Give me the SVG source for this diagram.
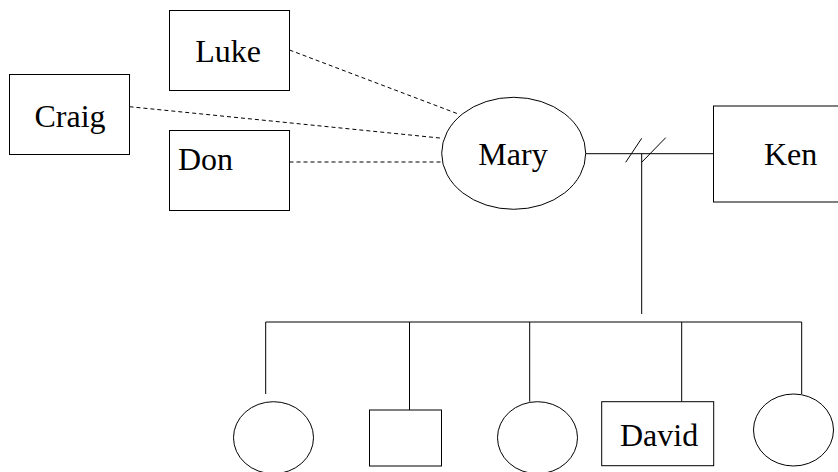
<svg xmlns="http://www.w3.org/2000/svg" width="838" height="472" viewBox="0 0 838 472">
<style>
.shape{fill:#fff;stroke:#000;stroke-width:1}
.line{fill:none;stroke:#000;stroke-width:1}
.dash{fill:none;stroke:#000;stroke-width:1;stroke-dasharray:4,3}
.lbl{font-family:"Times New Roman",Times,"Liberation Serif",Tinos,"Noto Serif","DejaVu Serif",FreeSerif,serif;font-size:32px;fill:#000}
</style>
<rect width="838" height="472" fill="#fff"/>
<g id="connectors">
<line class="dash" x1="289.5" y1="50" x2="458.3" y2="114"/>
<line class="dash" x1="129.5" y1="106.7" x2="442.7" y2="138.3"/>
<line class="dash" x1="289.5" y1="162" x2="442" y2="162"/>
<line class="line" x1="585.7" y1="153.7" x2="713.5" y2="153.7"/>
<line class="line" x1="625.7" y1="162.3" x2="641.7" y2="138.3"/>
<line class="line" x1="641.7" y1="162.3" x2="665.7" y2="137.7"/>
<line class="line" x1="641.7" y1="153.7" x2="641.7" y2="314"/>
<line class="line" x1="265.7" y1="322" x2="801.7" y2="322"/>
<line class="line" x1="265.7" y1="322" x2="265.7" y2="394"/>
<line class="line" x1="409.5" y1="322" x2="409.5" y2="410"/>
<line class="line" x1="529.7" y1="322" x2="529.7" y2="401.7"/>
<line class="line" x1="681.7" y1="322" x2="681.7" y2="401.7"/>
<line class="line" x1="801.7" y1="322" x2="801.7" y2="394"/>
</g>
<g id="luke"><rect class="shape" x="169.5" y="10.5" width="120" height="80"/><text class="lbl" x="228" y="62" text-anchor="middle">Luke</text></g>
<g id="craig"><rect class="shape" x="9.5" y="74.5" width="120" height="80"/><text class="lbl" x="70" y="127" text-anchor="middle">Craig</text></g>
<g id="don"><rect class="shape" x="169.5" y="130.5" width="120" height="80"/><text class="lbl" x="178" y="170">Don</text></g>
<g id="mary"><ellipse class="shape" cx="513.7" cy="153.3" rx="72" ry="56"/><text class="lbl" x="513" y="165" text-anchor="middle">Mary</text></g>
<g id="ken"><rect class="shape" x="713.5" y="106" width="160" height="96"/><text class="lbl" x="764" y="165">Ken</text></g>
<g id="child1"><ellipse class="shape" cx="273.5" cy="437.7" rx="40" ry="36"/></g>
<g id="child2"><rect class="shape" x="369.5" y="410" width="72" height="56"/></g>
<g id="child3"><ellipse class="shape" cx="537.5" cy="437.7" rx="40" ry="36"/></g>
<g id="david"><rect class="shape" x="601.7" y="401.7" width="112" height="64"/><text class="lbl" x="620" y="445.7">David</text></g>
<g id="child5"><ellipse class="shape" cx="793.5" cy="430" rx="40" ry="36"/></g>
</svg>
